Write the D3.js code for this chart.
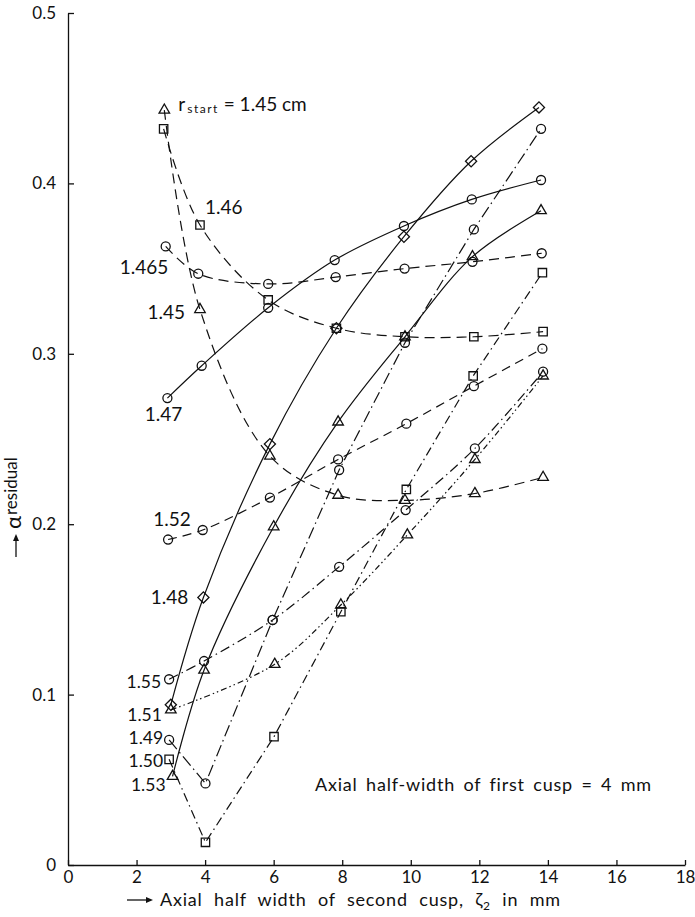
<!DOCTYPE html>
<meta charset="utf-8">
<script src="https://d3js.org/d3.v7.min.js"></script>
<style>
body { margin: 0; background: #fff; }
text { font-family: Lato, "DejaVu Sans", sans-serif; fill: #111; }
.domain, .tick line { stroke: #111; stroke-width: 1.3px; }
</style>
<div id="chart"></div>
<script>
// values: x = axial half width of second cusp (mm), y = alpha residual
var x145 = [2.81, 3.85, 5.89, 7.88, 9.83, 11.87, 13.86],
    y145 = [0.443, 0.326, 0.240, 0.217, 0.214, 0.218, 0.2275];
var x146 = [2.79, 3.85, 5.84, 7.83, 9.83, 11.84, 13.86],
    y146 = [0.432, 0.3756, 0.3316, 0.315, 0.310, 0.310, 0.313];
var x1465 = [2.85, 3.8, 5.84, 7.81, 9.82, 11.8, 13.82],
    y1465 = [0.363, 0.347, 0.341, 0.345, 0.350, 0.354, 0.359];
var x147 = [2.9, 3.9, 5.84, 7.78, 9.8, 11.78, 13.8],
    y147 = [0.274, 0.293, 0.327, 0.355, 0.375, 0.3906, 0.402];
var x148 = [3.0, 3.95, 5.89, 7.83, 9.8, 11.76, 13.74],
    y148 = [0.094, 0.157, 0.247, 0.315, 0.3687, 0.413, 0.4446];
var x152 = [2.92, 3.93, 5.89, 7.88, 9.87, 11.84, 13.84],
    y152 = [0.191, 0.1966, 0.2156, 0.238, 0.259, 0.281, 0.303];
var x153 = [3.05, 3.97, 6.0, 7.88, 9.83, 11.8, 13.8],
    y153 = [0.052, 0.1144, 0.1985, 0.260, 0.310, 0.357, 0.384];
var x155 = [2.95, 3.97, 5.97, 7.91, 9.85, 11.87, 13.86],
    y155 = [0.109, 0.1197, 0.1438, 0.175, 0.2083, 0.2445, 0.2895];
var x151 = [3.0, 6.03, 7.96, 9.9, 11.87, 13.86],
    y151 = [0.091, 0.1178, 0.1526, 0.1937, 0.238, 0.287];
var x149 = [2.95, 4.01, 5.97, 7.91, 9.83, 11.84, 13.8],
    y149 = [0.0734, 0.0479, 0.1438, 0.2318, 0.3065, 0.373, 0.432];
var x150 = [2.95, 4.01, 6.01, 7.96, 9.87, 11.82, 13.84],
    y150 = [0.062, 0.0133, 0.0753, 0.1486, 0.2204, 0.287, 0.3476];

var xTicks = [0, 2, 4, 6, 8, 10, 12, 14, 16, 18];
var yTicks = [0, 0.1, 0.2, 0.3, 0.4, 0.5];
var yTickLabels = ["0", "0.1", "0.2", "0.3", "0.4", "0.5"];

// r_start values (cm) for each curve
var series = [
  {name: "1.45",  xs: x145,  ys: y145},
  {name: "1.46",  xs: x146,  ys: y146},
  {name: "1.465", xs: x1465, ys: y1465},
  {name: "1.47",  xs: x147,  ys: y147},
  {name: "1.48",  xs: x148,  ys: y148},
  {name: "1.52",  xs: x152,  ys: y152},
  {name: "1.53",  xs: x153,  ys: y153},
  {name: "1.55",  xs: x155,  ys: y155},
  {name: "1.51",  xs: x151,  ys: y151},
  {name: "1.49",  xs: x149,  ys: y149},
  {name: "1.50",  xs: x150,  ys: y150}
];

// look of each curve, and where its label sits (pixel offset from one of its points, font size)
var look = {
  "1.45":  {shape: "tri",  dash: "10,6", curve: "smooth", lab: [1, -15, 3, "end", 19]},
  "1.46":  {shape: "sq",   dash: "10,6", curve: "smooth", lab: [1, 5, -18, "start", 19]},
  "1.465": {shape: "circ", dash: "10,6", curve: "smooth", lab: [1, -30, -6, "end", 19]},
  "1.47":  {shape: "circ", dash: null,   curve: "smooth", lab: [0, -4, 16, "middle", 19]},
  "1.48":  {shape: "dia",  dash: null,   curve: "smooth", lab: [1, -15, 0, "end", 19]},
  "1.52":  {shape: "circ", dash: "9,6",  curve: "smooth", lab: [0, 4, -20, "middle", 19]},
  "1.53":  {shape: "tri",  dash: null,   curve: "smooth", lab: [0, -7, 8, "end", 17.5]},
  "1.55":  {shape: "circ", dash: "10,4,1.5,4", curve: "smooth", lab: [0, -8, 3, "end", 17.5]},
  "1.51":  {shape: "tri",  dash: "6,3,1.5,3,1.5,3", curve: "smooth", lab: [0, -9, 5, "end", 17.5]},
  "1.49":  {shape: "circ", dash: "12,4,1.5,4", curve: "linear", lab: [0, -6, -2, "end", 17.5]},
  "1.50":  {shape: "sq",   dash: "9,4,1.5,4",  curve: "linear", lab: [0, -6, 2, "end", 17.5]}
};

var W = 695, H = 917;
var svg = d3.select("#chart").append("svg")
    .attr("width", W)
    .attr("height", H);

var x = d3.scaleLinear().domain([0, 18]).range([68, 685]);
var y = d3.scaleLinear().domain([0, 0.5]).range([865, 13]);

// axes
svg.append("g")
    .attr("transform", "translate(68,0)")
    .call(d3.axisLeft(y).tickValues(yTicks).tickSize(-6).tickSizeOuter(0).tickPadding(12)
      .tickFormat(function(d, i) { return yTickLabels[i]; }))
    .call(function(g) { g.selectAll("text").style("font-size", "17px").attr("fill", "#111"); });

svg.append("g")
    .attr("transform", "translate(0,865)")
    .call(d3.axisBottom(x).tickValues(xTicks).tickSize(-5).tickSizeOuter(0).tickPadding(6))
    .call(function(g) { g.selectAll("text").style("font-size", "17px").attr("fill", "#111"); });

// curves
var lineSmooth = d3.line().curve(d3.curveCatmullRom.alpha(0.5)),
    lineStraight = d3.line();

var pts = function(s) { return s.xs.map(function(v, i) { return [x(v), y(s.ys[i])]; }); };

svg.append("g").selectAll("path")
  .data(series)
  .enter().append("path")
    .attr("d", function(s) { return (look[s.name].curve == "linear" ? lineStraight : lineSmooth)(pts(s)); })
    .attr("fill", "none")
    .attr("stroke", "#111")
    .attr("stroke-width", 1.2)
    .attr("stroke-dasharray", function(s) { return look[s.name].dash; });

// markers
var symbolFor = {
  circ: d3.symbol().type(d3.symbolCircle).size(64),
  sq:   d3.symbol().type(d3.symbolSquare).size(70),
  tri:  d3.symbol().type(d3.symbolTriangle).size(48),
  dia:  d3.symbol().type(d3.symbolSquare).size(62)
};

series.forEach(function(s) {
  var shp = look[s.name].shape;
  svg.append("g").selectAll("path")
    .data(pts(s))
    .enter().append("path")
      .attr("d", symbolFor[shp]())
      .attr("transform", function(p) {
        return "translate(" + p[0] + "," + p[1] + ")" + (shp == "dia" ? " rotate(45)" : "");
      })
      .attr("fill", "none")
      .attr("stroke", "#111")
      .attr("stroke-width", 1.3);
});

// curve labels
series.forEach(function(s) {
  var l = look[s.name].lab, p = pts(s)[l[0]];
  if (s.name == "1.45") {
    // the top one carries the full legend text
    var p0 = pts(s)[0];
    var t = svg.append("text")
        .attr("x", p0[0] + 14).attr("y", p0[1] + 1)
        .style("font-size", "19px");
    t.append("tspan").text("r");
    t.append("tspan").text("start").style("font-size", "12px").style("letter-spacing", "1.5px").attr("dy", 2).attr("dx", 2);
    t.append("tspan").text(" = 1.45 cm").attr("dy", -2);
  }
  svg.append("text")
      .attr("x", p[0] + l[1])
      .attr("y", p[1] + l[2])
      .attr("dy", "0.35em")
      .attr("text-anchor", l[3])
      .style("font-size", l[4] + "px")
      .text(s.name);
});

// note
svg.append("text")
    .attr("x", 315).attr("y", 791)
    .style("font-size", "18px")
    .style("letter-spacing", "0.8px")
    .style("word-spacing", "3px")
    .text("Axial half-width of first cusp = 4 mm");

// x title
svg.append("line").attr("x1", 127).attr("x2", 146).attr("y1", 900).attr("y2", 900)
    .attr("stroke", "#111").attr("stroke-width", 1.3);
svg.append("path").attr("d", "M146,897L153,900L146,903Z").attr("fill", "#111");
var xt = svg.append("text")
    .attr("x", 160).attr("y", 906)
    .style("font-size", "18px")
    .style("letter-spacing", "0.8px")
    .style("word-spacing", "6px");
xt.append("tspan").text("Axial half width of second cusp, ζ");
xt.append("tspan").text("2").style("font-size", "12px").attr("dy", 4);
xt.append("tspan").text(" in mm").attr("dy", -4);

// y title, rotated
var yt = svg.append("g").attr("transform", "translate(14,557) rotate(-90)");
yt.append("line").attr("x1", 0).attr("x2", 16).attr("y1", 2).attr("y2", 2)
    .attr("stroke", "#111").attr("stroke-width", 1.3);
yt.append("path").attr("d", "M16,-1L23,2L16,5Z").attr("fill", "#111");
var ytt = yt.append("text").attr("x", 28).attr("y", 7).style("font-size", "22px");
ytt.append("tspan").text("α");
ytt.append("tspan").text("residual").style("font-size", "17px").attr("dx", 1).attr("dy", -4);
</script>
